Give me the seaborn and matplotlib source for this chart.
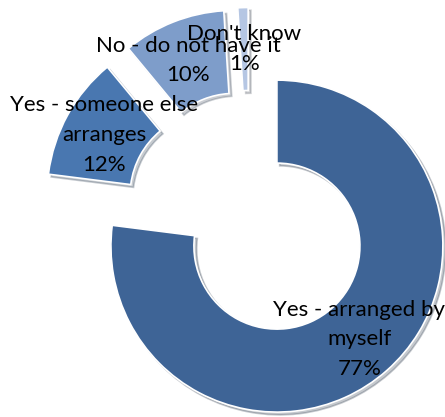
import matplotlib
matplotlib.use("Agg")
import matplotlib.pyplot as plt
import seaborn as sns

sns.set_theme(style="white")
plt.rcParams['font.family'] = ['Lato', 'DejaVu Sans']

categories = ["Yes - arranged by\nmyself", "Yes - someone else\narranges",
              "No - do not have it", "Don't know"]
values = [77, 12, 10, 1]
colors = ["#3E6496", "#4977B0", "#7E9DCA", "#B5C6E3"]

labels = [f"{c}\n{v}%" for c, v in zip(categories, values)]

fig = plt.figure(figsize=(4.45, 4.17), dpi=100)
ax = fig.add_axes([0, 0, 1, 1])
wedges, texts = ax.pie(
    values, labels=labels, colors=colors, startangle=90, counterclock=False,
    explode=[0.25] * len(values), radius=1.0, labeldistance=0.75,
    wedgeprops=dict(width=0.5, edgecolor="white", linewidth=1.2),
    textprops=dict(ha="center", va="center", fontsize=16, color="black",
                   linespacing=1.6),
    shadow=dict(ox=0.012, oy=-0.012, shade=0.6, alpha=0.25),
)
ax.set_xlim(-1.503, 1.178)
ax.set_ylim(-1.217, 1.295)
ax.set_aspect("equal")
ax.axis("off")
fig.savefig("out.png", dpi=100, facecolor="white")
